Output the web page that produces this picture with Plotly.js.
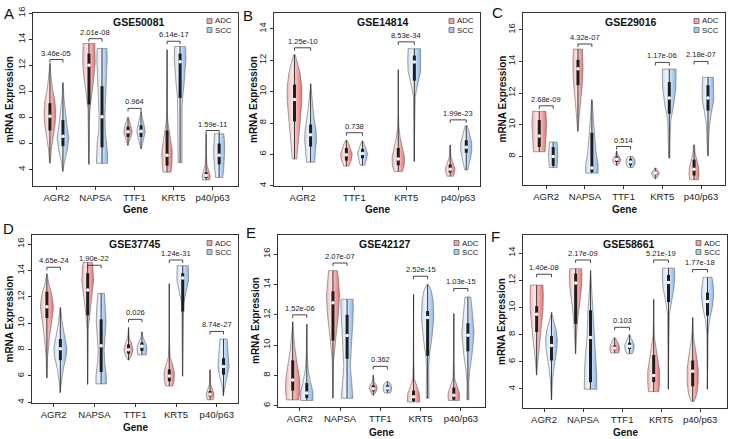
<!DOCTYPE html>
<html><head><meta charset="utf-8">
<script src="https://cdn.plot.ly/plotly-3.0.1.min.js"></script>
<style>html,body{margin:0;padding:0;background:#fff}#chart{width:729px;height:439px}</style>
</head><body><div id="chart"></div>
<script>
// ---------------- DATA ----------------
const genes5 = ['AGR2','NAPSA','TTF1','KRT5','p40/p63'];
const genes4 = ['AGR2','TTF1','KRT5','p40/p63'];
const groupNames = ['ADC','SCC'];
// violin profiles: [expression level, relative half-width] from bottom to top
// boxes: [Q1, median, Q3]

// Panel A: GSE50081
const A_dataset = 'GSE50081';
const A_ADC_shape = [
 [[4.5,0.05],[5.5,0.2],[6.5,0.5],[7.5,0.8],[8.4,0.9],[9.3,0.75],[10.2,0.4],[11.2,0.15],[12.15,0.02]],
 [[4.4,0.02],[6,0.04],[7.5,0.08],[8.6,0.15],[9.8,0.4],[11,0.75],[12.2,0.95],[13.2,0.95],[13.68,0.9]],
 [[5.85,0.05],[6.3,0.3],[6.9,0.65],[7.4,0.45],[7.8,0.2],[8.0,0.08]],
 [[3.8,0.6],[4.5,0.75],[5.4,0.8],[6.2,0.6],[7.0,0.3],[7.8,0.1],[8.5,0.04],[13.2,0.02]],
 [[3.2,0.5],[3.5,0.65],[3.8,0.45],[4.3,0.15],[5,0.05],[6.75,0.02]]
];
const A_ADC_box = [[7.0,8.1,9.1],[9.0,12.0,12.9],[6.5,6.9,7.3],[4.3,5.1,7.0],[3.35,3.55,3.8]];
const A_SCC_shape = [
 [[3.85,0.05],[4.5,0.2],[5.5,0.65],[6.4,0.9],[7.5,0.6],[8.5,0.35],[9.5,0.15],[10.67,0.03]],
 [[4.48,0.85],[5.2,0.85],[6.0,0.75],[7.0,0.5],[8.2,0.45],[9.5,0.55],[11,0.7],[12.5,0.8],[13.3,0.75]],
 [[5.6,0.05],[6.1,0.3],[6.9,0.65],[7.6,0.4],[8.1,0.12],[8.45,0.04]],
 [[4.54,0.3],[8.8,0.3],[9.6,0.4],[10.5,0.6],[11.5,0.8],[12.5,0.9],[13.45,0.85]],
 [[3.4,0.55],[4,0.7],[4.8,0.8],[5.5,0.85],[6.3,0.8],[6.75,0.7]]
];
const A_SCC_box = [[5.8,6.55,7.8],[5.7,8.06,10.4],[6.5,6.95,7.4],[9.5,12.27,12.9],[4.4,5.1,6.0]];
const A_bracket = [12.45,14.05,8.7,13.85,7.0];
const A_pvals = ['3.46e-05','2.01e-08','0.964','6.14e-17','1.59e-11'];

// Panel B: GSE14814
const B_dataset = 'GSE14814';
const B_ADC_shape = [
 [[5.7,0.3],[6.5,0.45],[7.5,0.65],[8.5,0.85],[9.5,1.0],[10.3,1.0],[11.2,0.75],[11.8,0.45],[12.36,0.1]],
 [[5.25,0.35],[5.6,0.65],[6.0,0.8],[6.4,0.55],[6.7,0.3],[6.9,0.1]],
 [[4.9,0.55],[5.3,0.8],[5.8,0.85],[6.4,0.6],[7.1,0.25],[7.8,0.08],[8.5,0.03],[11.4,0.02]],
 [[4.6,0.4],[4.85,0.6],[5.1,0.65],[5.4,0.45],[5.8,0.12],[6.6,0.02]]
];
const B_ADC_box = [[8.1,9.5,10.45],[5.6,5.98,6.4],[5.3,5.7,6.4],[4.85,5.05,5.35]];
const B_SCC_shape = [
 [[5.5,0.55],[6.2,0.65],[6.9,0.8],[7.5,0.75],[8.2,0.5],[9,0.3],[9.8,0.15],[10.5,0.05]],
 [[5.3,0.3],[5.7,0.55],[6.05,0.7],[6.4,0.45],[6.7,0.2],[6.85,0.08]],
 [[5.55,0.04],[7,0.05],[8.5,0.07],[9.7,0.12],[10.5,0.45],[11.3,0.85],[12,0.9],[12.74,0.85]],
 [[5.0,0.2],[5.6,0.5],[6.2,0.75],[6.7,0.75],[7.2,0.5],[7.6,0.3],[7.83,0.15]]
];
const B_SCC_box = [[6.5,7.25,7.9],[5.75,6.05,6.35],[10.7,11.9,12.3],[6.1,6.45,6.9]];
const B_bracket = [12.8,7.38,13.18,8.2];
const B_pvals = ['1.25e-10','0.738','8.53e-34','1.99e-23'];

// Panel C: GSE29016
const C_dataset = 'GSE29016';
const C_ADC_shape = [
 [[8.3,0.75],[8.8,0.8],[9.5,0.9],[10.1,0.95],[10.5,0.9],[10.85,0.85]],
 [[9.58,0.03],[10.5,0.15],[11.5,0.35],[12.5,0.55],[13.5,0.65],[14.3,0.62],[14.78,0.58]],
 [[7.43,0.1],[7.6,0.4],[7.8,0.55],[8.0,0.35],[8.15,0.1],[8.35,0.02]],
 [[6.6,0.1],[6.8,0.4],[6.95,0.5],[7.1,0.35],[7.27,0.08]],
 [[6.53,0.55],[6.9,0.65],[7.3,0.6],[7.8,0.35],[8.2,0.15],[8.74,0.04]]
];
const C_ADC_box = [[8.6,9.3,10.3],[12.5,13.54,14.1],[7.65,7.83,8.0],[6.85,6.95,7.05],[6.8,7.2,7.8]];
const C_SCC_shape = [
 [[7.3,0.5],[7.7,0.55],[8.1,0.6],[8.5,0.55],[8.91,0.5]],
 [[6.95,0.8],[7.5,0.8],[8.2,0.55],[9.2,0.35],[10.3,0.2],[11.58,0.04]],
 [[7.3,0.3],[7.5,0.55],[7.65,0.6],[7.85,0.5],[8.0,0.3]],
 [[7.9,0.08],[9,0.1],[10.3,0.2],[11.2,0.55],[12.3,0.85],[13.0,0.9],[13.52,0.88]],
 [[8.05,0.05],[9,0.08],[10,0.2],[10.8,0.45],[11.6,0.75],[12.4,0.75],[13.0,0.7]]
];
const C_SCC_box = [[7.4,8.0,8.6],[7.0,7.27,9.5],[7.45,7.65,7.85],[10.7,11.69,12.7],[10.9,11.69,12.5]];
const C_bracket = [11.2,15.1,8.63,13.94,14.0];
const C_pvals = ['2.68e-09','4.32e-07','0.514','1.17e-06','2.18e-07'];

// Panel D: GSE37745
const D_dataset = 'GSE37745';
const D_ADC_shape = [
 [[5.85,0.03],[7.5,0.12],[9,0.4],[10.5,0.85],[11.3,1],[12.2,0.75],[13,0.3],[13.76,0.02]],
 [[5.36,0.02],[7.5,0.04],[9.56,0.08],[10.8,0.3],[12,0.65],[13.2,0.9],[14.2,0.8],[14.62,0.7]],
 [[7.21,0.1],[7.6,0.5],[8.0,0.7],[8.5,0.45],[8.9,0.12],[9.68,0.02]],
 [[5.24,0.55],[5.7,0.75],[6.2,0.8],[6.8,0.55],[7.4,0.15],[8.5,0.04],[13.0,0.02]],
 [[4.2,0.45],[4.4,0.55],[4.65,0.6],[5.0,0.35],[5.4,0.08],[6.47,0.02]]
];
const D_ADC_box = [[10.4,11.25,12.4],[10.6,12.52,13.8],[7.7,8.0,8.4],[5.6,6.0,6.5],[4.45,4.62,4.85]];
const D_SCC_shape = [
 [[4.74,0.05],[5.5,0.15],[6.5,0.45],[7.5,0.9],[8.1,1],[9,0.7],[10,0.3],[11.2,0.03]],
 [[5.4,0.8],[6.0,0.8],[7.0,0.55],[8.0,0.45],[9.0,0.6],[10.2,0.75],[11.3,0.65],[12.27,0.5]],
 [[7.6,0.65],[8.0,0.75],[8.3,0.7],[8.7,0.35],[9.0,0.12],[9.35,0.03]],
 [[5.98,0.05],[8,0.06],[10,0.08],[11.5,0.15],[12.3,0.5],[13.3,0.9],[14.37,0.85]],
 [[4.5,0.05],[5.2,0.2],[6.0,0.6],[6.7,0.85],[7.4,0.75],[8.2,0.6],[8.81,0.55]]
];
const D_SCC_box = [[7.2,8.07,8.8],[6.3,8.3,10.3],[7.9,8.25,8.55],[10.9,13.43,13.8],[6.1,6.72,7.35]];
const D_bracket = [14.25,14.4,10.3,14.8,9.38];
const D_pvals = ['4.65e-24','1.90e-22','0.026','1.24e-31','8.74e-27'];

// Panel E: GSE42127
const E_dataset = 'GSE42127';
const E_ADC_shape = [
 [[6.39,0.85],[7,1],[7.8,0.95],[8.8,0.6],[9.8,0.3],[10.8,0.12],[11.55,0.02]],
 [[6.5,0.02],[8,0.04],[9,0.1],[10.5,0.4],[12,0.75],[13.3,0.9],[14.4,0.75],[14.92,0.6]],
 [[6.7,0.1],[7.0,0.45],[7.15,0.55],[7.4,0.4],[7.6,0.12],[8.02,0.02]],
 [[6.25,0.85],[6.8,0.8],[7.3,0.4],[7.8,0.1],[9,0.03],[13.35,0.02]],
 [[6.35,0.75],[6.8,0.8],[7.3,0.45],[7.8,0.12],[9,0.03],[12.09,0.02]]
];
const E_ADC_box = [[7.0,7.7,9.0],[10.3,12.8,13.55],[6.95,7.13,7.35],[6.3,6.6,7.0],[6.4,6.7,7.2]];
const E_SCC_shape = [
 [[6.35,0.85],[6.9,0.85],[7.5,0.55],[8.3,0.22],[9.3,0.08],[11.39,0.02]],
 [[6.5,0.8],[7.5,0.65],[8.6,0.45],[10,0.6],[11.5,0.8],[12.5,0.85],[13.03,0.85]],
 [[6.85,0.4],[7.0,0.55],[7.2,0.6],[7.45,0.45],[7.6,0.15]],
 [[6.5,0.2],[7.5,0.15],[8.5,0.15],[9.3,0.25],[10.5,0.6],[11.8,0.85],[13.0,0.75],[13.6,0.5],[14.0,0.12]],
 [[6.4,0.15],[7.5,0.12],[8.3,0.25],[9.5,0.6],[10.8,0.85],[12,0.65],[12.8,0.45],[13.18,0.4]]
];
const E_SCC_box = [[6.5,6.85,7.5],[9.1,10.63,12.0],[7.0,7.15,7.35],[9.3,11.83,12.25],[9.6,10.65,11.45]];
const E_bracket = [12.0,15.42,8.6,14.55,13.74];
const E_pvals = ['1.52e-06','2.07e-07','0.362','2.52e-15','1.03e-15'];

// Panel F: GSE58661
const F_dataset = 'GSE58661';
const F_ADC_shape = [
 [[5.02,0.03],[6,0.15],[7.2,0.4],[8.5,0.65],[9.7,0.85],[10.8,0.9],[11.65,0.85]],
 [[6.6,0.03],[7.8,0.1],[9,0.25],[10.3,0.5],[11.5,0.8],[12.4,0.85],[12.86,0.8]],
 [[6.65,0.55],[6.9,0.65],[7.2,0.6],[7.5,0.35],[7.77,0.1]],
 [[3.81,0.7],[4.5,0.8],[5.3,0.8],[6.2,0.55],[7.2,0.25],[7.9,0.08],[9,0.03],[10.6,0.02]],
 [[3.08,0.2],[3.6,0.55],[4.5,0.75],[5.5,0.75],[6.5,0.5],[7.5,0.2],[8.3,0.07],[9.27,0.02]]
];
const F_ADC_box = [[8.2,9.5,10.1],[8.8,11.8,12.5],[6.85,7.0,7.2],[4.5,5.0,6.5],[4.2,5.3,6.1]];
const F_SCC_shape = [
 [[3.2,0.03],[4.5,0.12],[5.8,0.4],[6.8,0.7],[7.6,0.8],[8.3,0.65],[9.0,0.3],[9.64,0.05]],
 [[3.98,0.85],[5,0.85],[6,0.75],[7,0.6],[8,0.45],[9.5,0.35],[11,0.2],[12.72,0.03]],
 [[6.6,0.35],[6.9,0.6],[7.2,0.65],[7.5,0.45],[7.8,0.15],[8.0,0.05]],
 [[3.98,0.04],[6,0.05],[8,0.07],[9.5,0.12],[10.5,0.4],[11.5,0.75],[12.4,0.85],[12.9,0.8]],
 [[3.98,0.04],[6,0.05],[8,0.08],[9,0.25],[10,0.65],[11,0.85],[11.8,0.75],[12.23,0.6]]
];
const F_SCC_box = [[6.1,7.2,7.9],[4.5,7.8,9.8],[6.95,7.15,7.4],[10.4,11.85,12.4],[9.4,10.45,11.1]];
const F_bracket = [12.45,13.5,8.54,13.5,12.8];
const F_pvals = ['1.40e-08','2.17e-09','0.103','5.21e-19','1.77e-18'];

// ---------------- LAYOUT / STYLE ----------------
const W = 729, H = 439;
const X = p => p / W, Y = p => 1 - p / H;
const FONT = 'Liberation Sans, Arial, Helvetica, sans-serif';
const ADC_SCALE = [[0,'#f0b4b4'],[0.35,'#fce8e8'],[1,'#ec6f6f']];
const SCC_SCALE = [[0,'#c9dcf3'],[0.35,'#f0f5fc'],[1,'#86b6ee']];

const panels = [
 {letter:'A', title:A_dataset, genes:genes5, adc:A_ADC_shape, adcBox:A_ADC_box, scc:A_SCC_shape, sccBox:A_SCC_box, bracket:A_bracket, pvals:A_pvals,
  box:{l:33,r:238,t:13,b:186}, xr:[0.4,5.65], yr:[2.74,16.02], off:0.167, hw:0.167, letterPos:[2,3], titleX:139, ylabX:9.5, xlabY:210},
 {letter:'B', title:B_dataset, genes:genes4, adc:B_ADC_shape, adcBox:B_ADC_box, scc:B_SCC_shape, sccBox:B_SCC_box, bracket:B_bracket, pvals:B_pvals,
  box:{l:274,r:480,t:13,b:186}, xr:[0.45,4.42], yr:[3.98,15.02], off:0.155, hw:0.142, letterPos:[241,5], titleX:383, ylabX:253.5, xlabY:210},
 {letter:'C', title:C_dataset, genes:genes5, adc:C_ADC_shape, adcBox:C_ADC_box, scc:C_SCC_shape, sccBox:C_SCC_box, bracket:C_bracket, pvals:C_pvals,
  box:{l:523,r:725,t:13,b:185}, xr:[0.4,5.62], yr:[6.2,17.06], off:0.18, hw:0.2, letterPos:[490,2], titleX:631, ylabX:501.5, xlabY:210},
 {letter:'D', title:D_dataset, genes:genes5, adc:D_ADC_shape, adcBox:D_ADC_box, scc:D_SCC_shape, sccBox:D_SCC_box, bracket:D_bracket, pvals:D_pvals,
  box:{l:32,r:238,t:235,b:403}, xr:[0.47,5.52], yr:[3.95,16.7], off:0.165, hw:0.16, letterPos:[1,218], titleX:135, ylabX:8.5, xlabY:427.5},
 {letter:'E', title:E_dataset, genes:genes5, adc:E_ADC_shape, adcBox:E_ADC_box, scc:E_SCC_shape, sccBox:E_SCC_box, bracket:E_bracket, pvals:E_pvals,
  box:{l:278,r:485,t:235,b:407}, xr:[0.46,5.6], yr:[5.92,17.27], off:0.175, hw:0.18, letterPos:[244,222], titleX:385, ylabX:255, xlabY:432},
 {letter:'F', title:F_dataset, genes:genes5, adc:F_ADC_shape, adcBox:F_ADC_box, scc:F_SCC_shape, sccBox:F_SCC_box, bracket:F_bracket, pvals:F_pvals,
  box:{l:523,r:727,t:235,b:408}, xr:[0.46,5.69], yr:[2.6,15.34], off:0.19, hw:0.19, letterPos:[489,226], titleX:629, ylabX:501.5, xlabY:432}
];

const traces = [];
const layout = {
  width: W, height: H, margin:{l:0,r:0,t:0,b:0},
  paper_bgcolor:'#fff', plot_bgcolor:'#fff', showlegend:false,
  font:{family:FONT, color:'#222'},
  annotations:[], shapes:[]
};

panels.forEach((p, i) => {
  const n = i + 1;
  const xa = 'x' + (n > 1 ? n : ''), ya = 'y' + (n > 1 ? n : '');
  const xk = 'xaxis' + (n > 1 ? n : ''), yk = 'yaxis' + (n > 1 ? n : '');
  const bx = p.box;
  layout[xk] = {
    domain:[X(bx.l), X(bx.r)], range:p.xr, anchor:ya, automargin:false,
    tickmode:'array', tickvals:p.genes.map((g,k)=>k+1), ticktext:p.genes,
    ticks:'outside', ticklen:3, tickcolor:'#333', tickwidth:1,
    showline:true, mirror:true, linecolor:'#333', linewidth:1,
    showgrid:false, zeroline:false, tickfont:{size:9.5, family:FONT, color:'#222'}, fixedrange:true
  };
  layout[yk] = {
    domain:[Y(bx.b), Y(bx.t)], range:p.yr, anchor:xa, automargin:false,
    dtick:2, tick0:0, ticks:'outside', ticklen:3, tickcolor:'#333', tickwidth:1, tickangle:-90,
    showline:true, mirror:true, linecolor:'#333', linewidth:1,
    showgrid:false, zeroline:false, tickfont:{size:9.5, family:FONT, color:'#222'}, fixedrange:true
  };
  const pxPerUnit = (bx.b - bx.t) / (p.yr[1] - p.yr[0]);
  const drop = 3 / pxPerUnit;

  p.genes.forEach((g, k) => {
    const pos = k + 1;
    [[p.adc[k], p.adcBox[k], -1, ADC_SCALE, '#f4b6b6'], [p.scc[k], p.sccBox[k], 1, SCC_SCALE, '#c4dbf4']].forEach(([shape, bxs, side, scale, fc]) => {
      const c = pos + side * p.off;
      const xs = [], ys = [];
      shape.forEach(([v, w]) => { xs.push(c - w * p.hw); ys.push(v); });
      shape.slice().reverse().forEach(([v, w]) => { xs.push(c + w * p.hw); ys.push(v); });
      xs.push(xs[0]); ys.push(ys[0]);
      traces.push({type:'scatter', mode:'lines', x:xs, y:ys, xaxis:xa, yaxis:ya,
        fill:'toself', fillcolor:fc, fillgradient:{type:'horizontal', colorscale:scale},
        line:{color:'#6a6a6a', width:0.6}, hoverinfo:'skip'});
      traces.push({type:'scatter', mode:'lines', x:[c,c], y:[shape[0][0], shape[shape.length-1][0]], xaxis:xa, yaxis:ya,
        line:{color:'#3a3a3a', width:1}, hoverinfo:'skip'});
      traces.push({type:'scatter', mode:'lines', x:[c,c], y:[bxs[0], bxs[2]], xaxis:xa, yaxis:ya,
        line:{color:'#1e1e1e', width:3}, hoverinfo:'skip'});
      traces.push({type:'scatter', mode:'markers', x:[c], y:[bxs[1]], xaxis:xa, yaxis:ya,
        marker:{color:'#ffffff', size:3.5}, hoverinfo:'skip'});
    });
    const b = p.bracket[k];
    traces.push({type:'scatter', mode:'lines', x:[pos-p.off,pos-p.off,pos+p.off,pos+p.off], y:[b-drop,b,b,b-drop],
      xaxis:xa, yaxis:ya, line:{color:'#333', width:0.9}, hoverinfo:'skip'});
    layout.annotations.push({xref:xa, yref:ya, x:pos, y:b, text:p.pvals[k], showarrow:false,
      yanchor:'bottom', xanchor:'center', yshift:0, font:{size:7.5, family:FONT, color:'#222'}});
  });

  layout.annotations.push({xref:'paper', yref:'paper', x:X(p.letterPos[0]), y:Y(p.letterPos[1]), text:p.letter,
    showarrow:false, xanchor:'left', yanchor:'top', font:{size:15, family:FONT, color:'#111'}});
  layout.annotations.push({xref:'paper', yref:'paper', x:X(p.titleX), y:Y(bx.t + 1), text:'<b>' + p.title + '</b>',
    showarrow:false, xanchor:'center', yanchor:'top', font:{size:10.5, family:FONT, color:'#111'}});
  layout.annotations.push({xref:'paper', yref:'paper', x:X(p.ylabX), y:Y((bx.t + bx.b) / 2), text:'<b>mRNA Expression</b>',
    showarrow:false, textangle:-90, xanchor:'center', yanchor:'middle', font:{size:10, family:FONT, color:'#111'}});
  layout.annotations.push({xref:'paper', yref:'paper', x:X((bx.l + bx.r) / 2), y:Y(p.xlabY), text:'<b>Gene</b>',
    showarrow:false, xanchor:'center', yanchor:'middle', font:{size:10, family:FONT, color:'#111'}});
  groupNames.forEach((gname, gi) => {
    const cy = bx.t + 8 + gi * 9;
    const sx = bx.r - 31;
    layout.shapes.push({type:'rect', xref:'paper', yref:'paper', x0:X(sx), x1:X(sx + 5), y0:Y(cy + 2.5), y1:Y(cy - 2.5),
      fillcolor: gi === 0 ? '#f2a3a3' : '#a9c9f0', line:{color:'#555', width:0.7}});
    layout.annotations.push({xref:'paper', yref:'paper', x:X(sx + 5.5), y:Y(cy), text:gname, showarrow:false,
      xanchor:'left', yanchor:'middle', font:{size:7.8, family:FONT, color:'#222'}});
  });
});

Plotly.newPlot('chart', traces, layout, {staticPlot:true, displayModeBar:false});
</script>
</body></html>
